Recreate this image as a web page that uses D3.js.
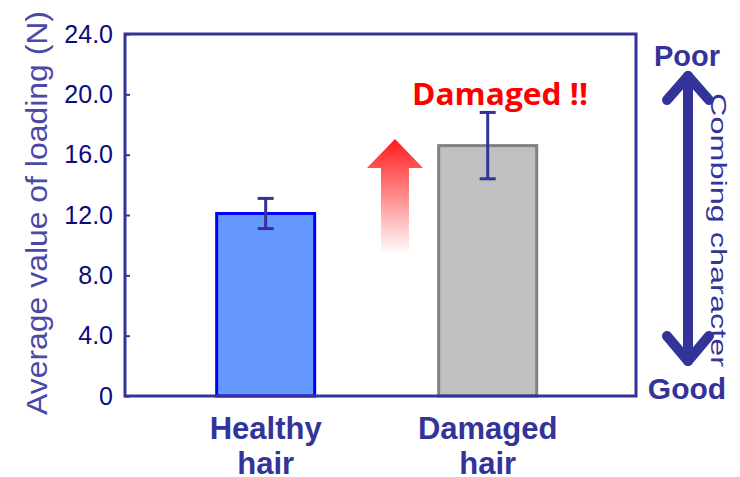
<!DOCTYPE html>
<html>
<head>
<meta charset="utf-8">
<script src="https://cdn.jsdelivr.net/npm/d3@7"></script>
<style>
  body { margin: 0; background: #fff; }
  svg { display: block; font-family: "Liberation Sans", Arial, sans-serif; }
</style>
</head>
<body>
<svg id="chart"></svg>
<script>
const categories = ["Healthy hair", "Damaged hair"];
const means = [12.1, 16.6];
const errLow = [11.1, 14.4];
const errHigh = [13.1, 18.8];
const yTicks = [0, 4, 8, 12, 16, 20, 24];

const width = 740, height = 477;
const plotLeft = 125, plotRight = 636, plotTop = 34, plotBottom = 396;
const navy = "#333399";

const svg = d3.select("#chart")
    .attr("width", width)
    .attr("height", height);

const y = d3.scaleLinear().domain([0, 24]).range([plotBottom, plotTop]);
const x = d3.scaleBand()
    .domain(categories)
    .range([plotLeft, plotRight])
    .paddingInner(0.5586)
    .paddingOuter(0.43)
    .align(0.48);

const fills = ["#6699ff", "#c0c0c0"];
const strokes = ["#0000ff", "#808080"];

// gradient for the "up" arrow
const defs = svg.append("defs");
const grad = defs.append("linearGradient")
    .attr("id", "upGrad")
    .attr("x1", 0).attr("y1", 0).attr("x2", 0).attr("y2", 1);
grad.append("stop").attr("offset", "0%").attr("stop-color", "#ff1a1a");
grad.append("stop").attr("offset", "100%").attr("stop-color", "#ff1a1a").attr("stop-opacity", 0);

// bars
svg.selectAll(".bar")
    .data(means)
    .enter().append("rect")
    .attr("class", "bar")
    .attr("x", (d, i) => x(categories[i]))
    .attr("y", d => y(d))
    .attr("width", x.bandwidth())
    .attr("height", d => y(0) - y(d))
    .style("fill", (d, i) => fills[i])
    .style("stroke", (d, i) => strokes[i])
    .style("stroke-width", 3);

// error bars
const eb = svg.selectAll(".err")
    .data(means)
    .enter().append("g")
    .attr("class", "err")
    .attr("transform", (d, i) => "translate(" + (x(categories[i]) + x.bandwidth() / 2) + ",0)")
    .style("stroke", navy)
    .style("stroke-width", 3);
eb.append("line")
    .attr("y1", (d, i) => y(errLow[i]))
    .attr("y2", (d, i) => y(errHigh[i]));
eb.append("line")
    .attr("x1", -8).attr("x2", 8)
    .attr("y1", (d, i) => y(errLow[i]))
    .attr("y2", (d, i) => y(errLow[i]));
eb.append("line")
    .attr("x1", -8).attr("x2", 8)
    .attr("y1", (d, i) => y(errHigh[i]))
    .attr("y2", (d, i) => y(errHigh[i]));

// frame
svg.append("rect")
    .attr("x", plotLeft).attr("y", plotTop)
    .attr("width", plotRight - plotLeft).attr("height", plotBottom - plotTop)
    .style("fill", "none")
    .style("stroke", navy)
    .style("stroke-width", 3);

// y axis
const yAxis = svg.append("g")
    .attr("transform", "translate(" + plotLeft + ",0)")
    .call(d3.axisLeft(y)
        .tickValues(yTicks)
        .tickSizeInner(-5)
        .tickSizeOuter(0)
        .tickPadding(12)
        .tickFormat(d => d === 0 ? "0" : d3.format(".1f")(d)));
yAxis.select(".domain").remove();
yAxis.selectAll("line").style("stroke", navy).style("stroke-width", 2);
yAxis.selectAll("text")
    .style("font-family", "Liberation Sans, Arial, sans-serif")
    .style("font-size", "25px")
    .style("fill", "#0a0a80");

// y title
svg.append("text")
    .attr("transform", "translate(47,213) rotate(-90)")
    .attr("text-anchor", "middle")
    .attr("textLength", 404)
    .attr("lengthAdjust", "spacingAndGlyphs")
    .style("font-size", "30px")
    .style("fill", "#4a4aa6")
    .text("Average value of loading (N)");

// x labels
const xl = svg.selectAll(".xlab")
    .data(categories)
    .enter().append("text")
    .attr("class", "xlab")
    .attr("text-anchor", "middle")
    .style("font-size", "31px")
    .style("font-weight", "bold")
    .style("fill", navy);
xl.selectAll("tspan")
    .data(d => d.split(" ").map(w => ({ w: w, c: d })))
    .enter().append("tspan")
    .attr("x", d => x(d.c) + x.bandwidth() / 2)
    .attr("y", (d, i) => 439 + i * 35)
    .text(d => d.w);

// gradient up arrow
const ax = 395;
svg.append("path")
    .attr("d", "M" + ax + ",139 L" + (ax + 28) + ",168 L" + (ax + 14) + ",168 L" + (ax + 14) + ",254 L" + (ax - 14) + ",254 L" + (ax - 14) + ",168 L" + (ax - 28) + ",168 Z")
    .style("fill", "url(#upGrad)");

svg.append("text")
    .attr("x", 412).attr("y", 105)
    .attr("textLength", 176)
    .attr("lengthAdjust", "spacingAndGlyphs")
    .style("font-family", "Open Sans, Noto Sans, sans-serif")
    .style("font-size", "31px")
    .style("font-weight", "bold")
    .style("fill", "#ff0000")
    .text("Damaged !!");

// combing character side
const cx = 688;
svg.append("text")
    .attr("x", 687).attr("y", 66)
    .attr("text-anchor", "middle")
    .style("font-size", "29px").style("font-weight", "bold")
    .style("fill", navy)
    .text("Poor");
svg.append("text")
    .attr("x", 687).attr("y", 399)
    .attr("text-anchor", "middle")
    .style("font-size", "30px").style("font-weight", "bold")
    .style("fill", navy)
    .text("Good");

const arrow = svg.append("g")
    .style("stroke", navy)
    .style("stroke-width", 10)
    .style("stroke-linecap", "round")
    .style("stroke-linejoin", "round")
    .style("fill", "none");
arrow.append("line").attr("x1", cx).attr("x2", cx).attr("y1", 76).attr("y2", 361);
arrow.append("polyline").attr("points", [[cx - 21, 100], [cx, 76], [cx + 21, 100]].join(" "));
arrow.append("polyline").attr("points", [[cx - 21, 336], [cx, 361], [cx + 21, 336]].join(" "));

svg.append("text")
    .attr("transform", "translate(711,230) rotate(90)")
    .attr("text-anchor", "middle")
    .attr("textLength", 274)
    .attr("lengthAdjust", "spacingAndGlyphs")
    .style("font-size", "22px")
    .style("fill", navy)
    .text("Combing character");
</script>
</body>
</html>
